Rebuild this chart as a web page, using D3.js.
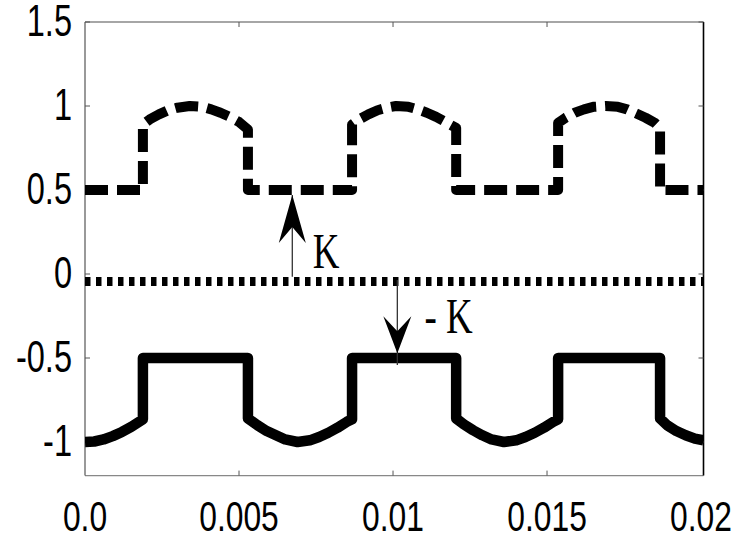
<!DOCTYPE html>
<html>
<head>
  <meta charset="utf-8">
  <script src="https://cdnjs.cloudflare.com/ajax/libs/d3/7.8.5/d3.min.js"></script>
  <style>
    body, html {
      margin: 0;
      padding: 0;
      background: white;
      overflow: hidden;
    }
    .tickLabel {
      font-family: 'Liberation Sans', Arial, sans-serif;
      fill: #000;
    }
    .note {
      font-family: 'Liberation Serif', 'Times New Roman', serif;
      fill: #000;
    }
  </style>
</head>
<body>
  <svg id="chart" width="742" height="544"></svg>

  <script>
    // ---- data ----
    const xTicks = [0, 0.005, 0.01, 0.015, 0.02];
    const xTickLabels = ["0.0", "0.005", "0.01", "0.015", "0.02"];
    const yTicks = [1.5, 1, 0.5, 0, -0.5, -1];
    const yTickLabels = ["1.5", "1", "0.5", "0", "-0.5", "-1"];

    // upper (dashed) signal
    const upperT = [0, 0.00188, 0.00188, 0.0021, 0.0024, 0.0027, 0.0030, 0.0034, 0.0038, 0.0041, 0.0044, 0.0047, 0.0050, 0.00529, 0.00529,
      0.00867, 0.00867, 0.0089, 0.0092, 0.0095, 0.0098, 0.0101, 0.0105, 0.0108, 0.0111, 0.0114, 0.0117, 0.01205, 0.01205,
      0.01536, 0.01536, 0.0156, 0.0159, 0.0162, 0.0165, 0.0169, 0.0173, 0.0176, 0.0179, 0.0182, 0.0185, 0.01867, 0.01867, 0.02008];
    const upperV = [0.5, 0.5, 0.89, 0.92, 0.95, 0.975, 0.99, 1.0, 0.995, 0.98, 0.96, 0.935, 0.905, 0.86, 0.5,
      0.5, 0.89, 0.92, 0.95, 0.975, 0.99, 1.0, 0.995, 0.98, 0.96, 0.935, 0.905, 0.87, 0.5,
      0.5, 0.9, 0.93, 0.96, 0.98, 0.995, 1.0, 0.995, 0.98, 0.955, 0.93, 0.9, 0.87, 0.5, 0.5];

    // reference (dotted) line
    const refT = [0, 0.02008];
    const refV = [-0.045, -0.045];

    // lower (solid) signal
    const lowerT = [0, 0.0003, 0.0006, 0.0009, 0.0012, 0.0015, 0.00188, 0.00188, 0.00529, 0.00529,
      0.0056, 0.0059, 0.0062, 0.0065, 0.0069, 0.0073, 0.0076, 0.0079, 0.0082, 0.0085, 0.00867, 0.00867,
      0.01205, 0.01205, 0.0123, 0.0126, 0.0129, 0.0132, 0.0136, 0.0140, 0.0143, 0.0146, 0.0149, 0.0152, 0.01536, 0.01536,
      0.01867, 0.01867, 0.0189, 0.0192, 0.0195, 0.0198, 0.02008];
    const lowerV = [-1.0, -0.997, -0.985, -0.965, -0.94, -0.91, -0.865, -0.5, -0.5, -0.86,
      -0.9, -0.935, -0.96, -0.985, -1.0, -0.99, -0.97, -0.945, -0.915, -0.88, -0.865, -0.5,
      -0.5, -0.86, -0.895, -0.93, -0.96, -0.985, -1.0, -0.99, -0.97, -0.945, -0.915, -0.88, -0.865, -0.5,
      -0.5, -0.86, -0.9, -0.935, -0.96, -0.98, -0.99];

    // annotation arrows (x, from, to) and labels
    const arrowT = [0.00673, 0.01014];
    const arrowFrom = [-0.016, -0.036];
    const arrowTo = [0.47, -0.472];
    const arrowTail = [-0.016, -0.542];
    const noteText = ["K", "- K"];
    const noteT = [0.00739, 0.01102];
    const noteV = [0.034, -0.353];

    // ---- drawing ----
    const svg = d3.select('#chart');

    const x = d3.scaleLinear().domain([0, 0.02008]).range([85, 703.5]);
    const y = d3.scaleLinear().domain([-1.2, 1.5]).range([475.6, 22]);

    const xLeft = x.range()[0], xRight = x.range()[1];
    const yTop = y.range()[1], yBottom = y.range()[0];
    const tickLen = 5;

    // frame
    svg.append('line').attr('x1', xLeft).attr('x2', xRight).attr('y1', yTop).attr('y2', yTop)
      .attr('stroke', '#888').attr('stroke-width', 1.3);
    svg.append('line').attr('x1', xLeft).attr('x2', xRight).attr('y1', yBottom).attr('y2', yBottom)
      .attr('stroke', '#888').attr('stroke-width', 1.3);
    svg.append('line').attr('x1', xLeft).attr('x2', xLeft).attr('y1', yTop).attr('y2', yBottom)
      .attr('stroke', '#555').attr('stroke-width', 1.2);
    svg.append('line').attr('x1', xRight).attr('x2', xRight).attr('y1', yTop).attr('y2', yBottom)
      .attr('stroke', '#000').attr('stroke-width', 1.6);

    // ticks pointing inwards
    const inner = xTicks.filter(d => d > 0 && d < 0.02);
    svg.selectAll('.xTickB').data(inner).join('line')
      .attr('x1', d => x(d)).attr('x2', d => x(d))
      .attr('y1', yBottom).attr('y2', yBottom - tickLen)
      .attr('stroke', '#555').attr('stroke-width', 1);
    svg.selectAll('.xTickT').data(inner).join('line')
      .attr('x1', d => x(d)).attr('x2', d => x(d))
      .attr('y1', yTop).attr('y2', yTop + tickLen)
      .attr('stroke', '#555').attr('stroke-width', 1);
    svg.selectAll('.yTickL').data(yTicks).join('line')
      .attr('x1', xLeft).attr('x2', xLeft + tickLen)
      .attr('y1', d => y(d)).attr('y2', d => y(d))
      .attr('stroke', '#555').attr('stroke-width', 1);
    svg.selectAll('.yTickR').data(yTicks).join('line')
      .attr('x1', xRight).attr('x2', xRight - tickLen)
      .attr('y1', d => y(d)).attr('y2', d => y(d))
      .attr('stroke', '#555').attr('stroke-width', 1);

    // tick labels (narrow look)
    const squeeze = 0.74;
    svg.selectAll('.xLab').data(xTicks).join('text')
      .attr('class', 'tickLabel')
      .attr('transform', d => `translate(${x(d)},530.5) scale(${squeeze},1)`)
      .attr('text-anchor', 'middle')
      .style('font-size', '43px')
      .text((d, i) => xTickLabels[i]);
    svg.selectAll('.yLab').data(yTicks).join('text')
      .attr('class', 'tickLabel')
      .attr('transform', d => `translate(72,${y(d) + 13.5}) scale(${squeeze},1)`)
      .attr('text-anchor', 'end')
      .style('font-size', '44px')
      .text((d, i) => yTickLabels[i]);

    const line = d3.line().x(d => x(d[0])).y(d => y(d[1]));

    svg.append('clipPath').attr('id', 'plotClip')
      .append('rect').attr('x', xLeft).attr('y', yTop)
      .attr('width', xRight - xLeft).attr('height', yBottom - yTop);

    const plot = svg.append('g').attr('clip-path', 'url(#plotClip)');

    // dotted reference line
    plot.append('path')
      .attr('d', line(refT.map((t, i) => [t, refV[i]])))
      .attr('fill', 'none').attr('stroke', '#000')
      .attr('stroke-width', 9).attr('stroke-dasharray', '5.5,5.5');

    // upper dashed signal
    plot.append('path')
      .attr('d', line(upperT.map((t, i) => [t, upperV[i]])))
      .attr('fill', 'none').attr('stroke', '#000')
      .attr('stroke-width', 10).attr('stroke-dasharray', '23,9')
      .attr('stroke-linejoin', 'round');

    // lower solid signal
    plot.append('path')
      .attr('d', line(lowerT.map((t, i) => [t, lowerV[i]])))
      .attr('fill', 'none').attr('stroke', '#000')
      .attr('stroke-width', 10.5)
      .attr('stroke-linejoin', 'round');

    // arrows
    const headLen = [48, 37];
    const headBack = [16, 15];
    const headHalf = [13.5, 14];
    arrowT.forEach((t, i) => {
      const ax = x(t);
      const tip = y(arrowTo[i]);
      const dir = arrowTo[i] > arrowFrom[i] ? 1 : -1; // 1 = pointing up
      svg.append('line')
        .attr('x1', ax).attr('x2', ax)
        .attr('y1', y(arrowFrom[i])).attr('y2', dir > 0 ? tip : y(arrowTail[i]))
        .attr('stroke', '#333').attr('stroke-width', 1.3);
      const base = tip + dir * headLen[i];
      const notch = base - dir * headBack[i];
      svg.append('path')
        .attr('d', `M${ax},${tip} L${ax + headHalf[i]},${base} L${ax},${notch} L${ax - headHalf[i]},${base} Z`)
        .attr('fill', '#000');
    });

    // labels
    noteText.forEach((s, i) => {
      svg.append('text')
        .attr('class', 'note')
        .attr('transform', `translate(${x(noteT[i])},${y(noteV[i])}) scale(${squeeze},1)`)
        .style('font-size', '50px')
        .text(s);
    });
  </script>
</body>
</html>
